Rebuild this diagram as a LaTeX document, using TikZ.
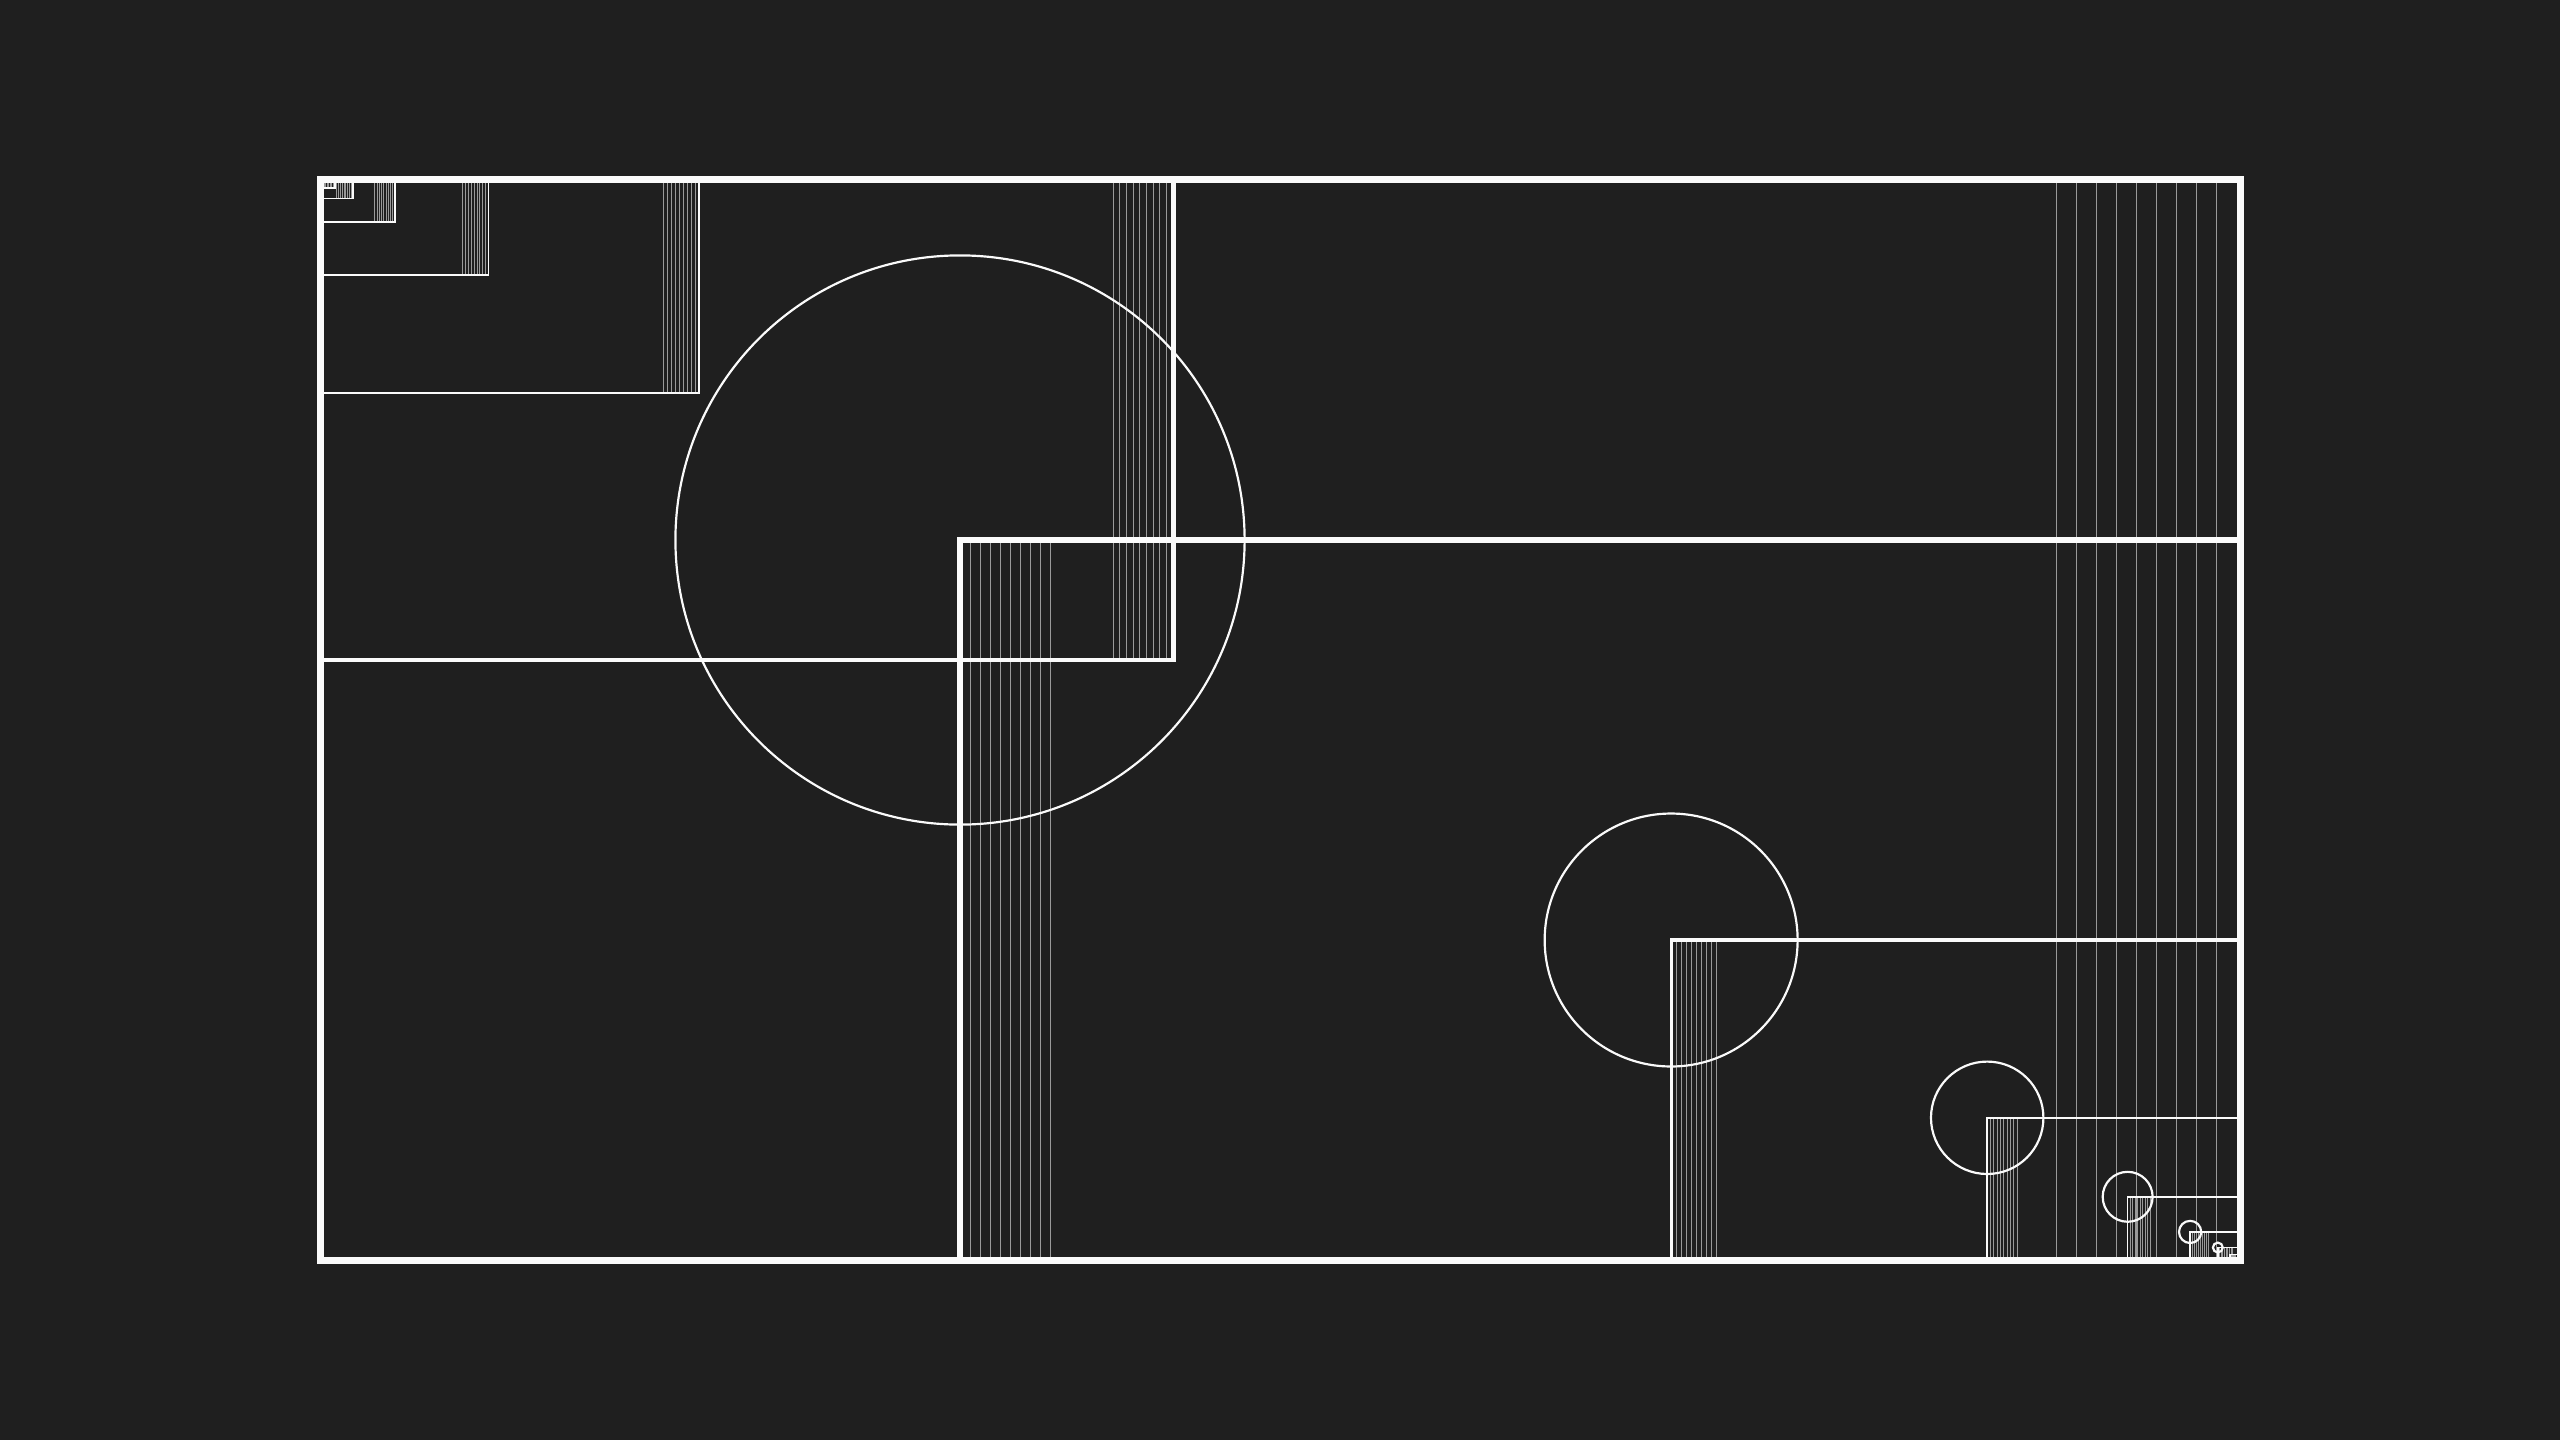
\documentclass[tikz,border=0pt]{standalone}
\definecolor{bgdark}{HTML}{1F1F1F}
\definecolor{linewhite}{HTML}{FAFAFA}
\definecolor{hairgray}{HTML}{9A9A9A}
\tikzset{
        box/.style={draw=linewhite},
        hair/.style={draw=hairgray, line width=0.28pt},
        ring/.style={draw=linewhite, line width=0.62pt}
}
\begin{document}
\begin{tikzpicture}[x=0.01cm,y=-0.01cm]
        % background
        \fill[bgdark] (0,0) rectangle (2560,1440);
        \useasboundingbox (0,0) rectangle (2560,1440);
        % hair lines
        \foreach \k in {0,...,13}{
            \pgfmathsetmacro\w{1920*(2/3)^\k}
            \pgfmathsetmacro\h{1080*(2/3)^\k}
            \pgfmathsetmacro\s{20/(\k+1)}
            \pgfmathsetmacro\off{ifthenelse(\k==0,3.3,0)}
            \ifodd\k
                \foreach \i in {1,...,9}
                    \draw[hair] (2240-\w+\s*\i,1260-\h) -- (2240-\w+\s*\i,1260);
            \else
                \foreach \i in {1,...,9}
                    \draw[hair] (320+\w-\off-\s*\i,180) -- (320+\w-\off-\s*\i,180+\h);
            \fi
        }
        % boxes
        \foreach \k in {13,...,0}{
            \pgfmathsetmacro\w{1920*(2/3)^\k}
            \pgfmathsetmacro\h{1080*(2/3)^\k}
            \pgfmathsetmacro\lw{max(7-1.25*\k,1.6)*0.2845}
            \ifodd\k
                \draw[box,line width=\lw pt] (2240-\w,1260-\h) rectangle (2240,1260);
            \else
                \draw[box,line width=\lw pt] (320,180) rectangle (320+\w,180+\h);
            \fi
        }
        % circles
        \foreach \k in {1,3,...,11}{
            \pgfmathsetmacro\w{1920*(2/3)^\k}
            \pgfmathsetmacro\h{1080*(2/3)^\k}
            \pgfmathsetmacro\r{9.6*(2/3)^(\k+2)}
            \draw[ring] (2240-\w,1260-\h) circle[radius=\r cm];
        }
\end{tikzpicture}
\end{document}
